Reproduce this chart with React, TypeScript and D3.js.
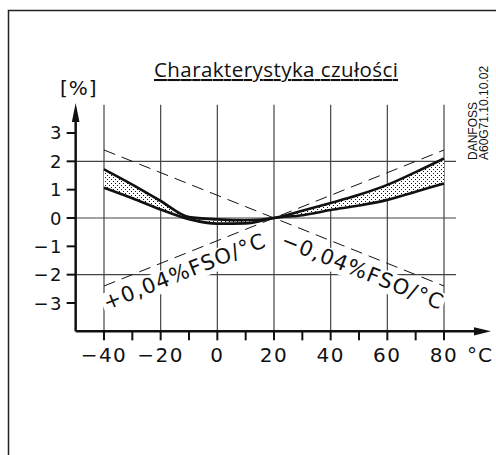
import React, { useEffect, useRef } from 'react';
import * as d3 from 'd3';

const temps = [-40, -30, -20, -10, 0, 10, 20, 30, 40, 50, 60, 70, 80];
const upperErr = [1.72, 1.18, 0.6, 0.03, -0.05, -0.08, 0, 0.26, 0.53, 0.82, 1.17, 1.62, 2.1];
const lowerErr = [1.07, 0.7, 0.3, -0.04, -0.2, -0.19, 0, 0.1, 0.28, 0.44, 0.64, 0.93, 1.22];

const xLabels = [-40, -20, 0, 20, 40, 60, 80];
const xTicks = [-40, -30, -20, -10, 0, 10, 20, 30, 40, 50, 60, 70, 80];
const yTicks = [-3, -2, -1, 0, 1, 2, 3];
const yGrid = [-2, 0, 2];

const refTemp = 20;
const tcSlopes = [0.04, -0.04];
const tcLabels = ['+0,04%FSO/°C', '−0,04%FSO/°C'];
const tcLabelAt = [-39, 22];

const title = 'Charakterystyka czułości';
const unitY = '[%]';
const unitX = '°C';
const stamp = ['DANFOSS', 'A60G71.10.10.02'];

const W = 496;
const H = 455;
const ink = '#111';
const grid = '#444';
const techFont = '"DejaVu Sans", sans-serif';

const fmt = (d: number) => (d < 0 ? '−' + Math.abs(d) : String(d));

export default function App() {
  const ref = useRef<SVGSVGElement>(null);

  useEffect(() => {
    const svg = d3.select(ref.current);
    svg.selectAll('*').remove();

    const x = d3.scaleLinear().domain([-40, 80]).range([104, 444]);
    const y = d3.scaleLinear().domain([0, 2]).range([218, 161.33]);
    const x0 = x(-50);
    const yTop = y(4);
    const yBot = y(-4);

    // dotted fill for the band
    const defs = svg.append('defs');
    const pat = defs
      .append('pattern')
      .attr('id', 'dots')
      .attr('patternUnits', 'userSpaceOnUse')
      .attr('width', 4)
      .attr('height', 4);
    pat.append('rect').attr('width', 4).attr('height', 4).attr('fill', '#fff');
    pat.append('rect').attr('x', 1).attr('y', 1).attr('width', 1).attr('height', 1).attr('fill', ink);
    pat.append('rect').attr('x', 3).attr('y', 3).attr('width', 1).attr('height', 1).attr('fill', ink);

    // frame
    svg
      .append('rect')
      .attr('x', 8.5)
      .attr('y', 10.5)
      .attr('width', 600)
      .attr('height', 600)
      .attr('fill', 'none')
      .attr('stroke', '#222')
      .attr('stroke-width', 1.5);

    // grid
    svg
      .selectAll('.vgrid')
      .data(xLabels)
      .enter()
      .append('line')
      .attr('x1', d => x(d))
      .attr('x2', d => x(d))
      .attr('y1', yTop)
      .attr('y2', yBot)
      .attr('stroke', grid)
      .attr('stroke-width', 1.2);

    svg
      .selectAll('.hgrid')
      .data(yGrid)
      .enter()
      .append('line')
      .attr('x1', x0)
      .attr('x2', 456)
      .attr('y1', d => y(d))
      .attr('y2', d => y(d))
      .attr('stroke', grid)
      .attr('stroke-width', 1.2);

    // tolerance lines
    tcSlopes.forEach(s => {
      svg
        .append('line')
        .attr('x1', x(-40))
        .attr('y1', y(s * (-40 - refTemp)))
        .attr('x2', x(80))
        .attr('y2', y(s * (80 - refTemp)))
        .attr('stroke', ink)
        .attr('stroke-width', 1)
        .attr('stroke-dasharray', '12 7');
    });

    // sensitivity band
    const band = d3
      .area<number>()
      .x((_, i) => x(temps[i]))
      .y0((_, i) => y(lowerErr[i]))
      .y1(d => y(d))
      .curve(d3.curveMonotoneX);
    svg.append('path').attr('d', band(upperErr)).attr('fill', 'url(#dots)');

    const line = d3
      .line<number>()
      .x((_, i) => x(temps[i]))
      .y(d => y(d))
      .curve(d3.curveMonotoneX);
    [upperErr, lowerErr].forEach(s => {
      svg
        .append('path')
        .attr('d', line(s))
        .attr('fill', 'none')
        .attr('stroke', ink)
        .attr('stroke-width', 2.6);
    });

    // rotated tolerance labels with white boxes
    tcSlopes.forEach((s, i) => {
      const t = tcLabelAt[i];
      const px = x(t);
      const py = y(s * (t - refTemp) - 0.9);
      const ang =
        (Math.atan2(y(s * 60) - y(0), x(80) - x(20)) * 180) / Math.PI;
      const g = svg.append('g').attr('transform', `translate(${px},${py}) rotate(${ang})`);
      const r = g.append('rect').attr('fill', '#fff');
      const txt = g
        .append('text')
        .attr('font-family', techFont)
        .attr('font-size', 21)
        .attr('fill', ink)
        .attr('textLength', 172)
        .attr('lengthAdjust', 'spacing')
        .text(tcLabels[i]);
      const bb = (txt.node() as SVGTextElement).getBBox();
      r.attr('x', bb.x - 2)
        .attr('y', bb.y + 2)
        .attr('width', bb.width + 4)
        .attr('height', bb.height - 2);
    });

    // axes
    svg
      .append('line')
      .attr('x1', x0)
      .attr('x2', x0)
      .attr('y1', yBot)
      .attr('y2', 116)
      .attr('stroke', ink)
      .attr('stroke-width', 2.5);
    svg
      .append('path')
      .attr('d', `M${x0},103 L${x0 + 3.8},122 L${x0 - 3.8},122 Z`)
      .attr('fill', ink);

    svg
      .append('line')
      .attr('x1', x0)
      .attr('x2', 478)
      .attr('y1', yBot)
      .attr('y2', yBot)
      .attr('stroke', ink)
      .attr('stroke-width', 2.5);
    svg
      .append('path')
      .attr('d', `M491,${yBot} L474,${yBot - 4.2} L474,${yBot + 4.2} Z`)
      .attr('fill', ink);

    svg
      .selectAll('.xtick')
      .data(xTicks)
      .enter()
      .append('line')
      .attr('x1', d => x(d))
      .attr('x2', d => x(d))
      .attr('y1', yBot)
      .attr('y2', yBot + 9)
      .attr('stroke', ink)
      .attr('stroke-width', 2);

    svg
      .selectAll('.ytick')
      .data(yTicks)
      .enter()
      .append('line')
      .attr('x1', x0 - 9)
      .attr('x2', x0)
      .attr('y1', d => y(d))
      .attr('y2', d => y(d))
      .attr('stroke', ink)
      .attr('stroke-width', 2);

    svg
      .selectAll('.xlab')
      .data(xLabels)
      .enter()
      .append('text')
      .attr('x', d => x(d))
      .attr('y', 362)
      .attr('text-anchor', 'middle')
      .attr('font-family', techFont)
      .attr('font-size', 20)
      .attr('letter-spacing', 1.5)
      .attr('fill', ink)
      .text(d => fmt(d));

    svg
      .append('text')
      .attr('x', 467)
      .attr('y', 362)
      .attr('font-family', techFont)
      .attr('font-size', 20)
      .attr('letter-spacing', 1)
      .attr('fill', ink)
      .text(unitX);

    svg
      .selectAll('.ylab')
      .data(yTicks)
      .enter()
      .append('text')
      .attr('x', 63)
      .attr('y', d => y(d) + 6.5)
      .attr('text-anchor', 'end')
      .attr('font-family', techFont)
      .attr('font-size', 18)
      .attr('letter-spacing', 1.5)
      .attr('fill', ink)
      .text(d => fmt(d));

    svg
      .append('text')
      .attr('x', 60)
      .attr('y', 95)
      .attr('font-family', techFont)
      .attr('font-size', 20)
      .attr('letter-spacing', 1)
      .attr('fill', ink)
      .text(unitY);

    // title
    svg
      .append('text')
      .attr('x', 154)
      .attr('y', 77)
      .attr('font-family', '"Open Sans", sans-serif')
      .attr('font-size', 20.5)
      .attr('textLength', 244)
      .attr('lengthAdjust', 'spacing')
      .attr('fill', ink)
      .attr('text-decoration', 'underline')
      .text(title);

    // drawing stamp
    stamp.forEach((s, i) => {
      svg
        .append('text')
        .attr('transform', `translate(${477 + i * 11},160) rotate(-90)`)
        .attr('font-family', '"Liberation Sans", Arial, sans-serif')
        .attr('font-size', 12)
        .attr('fill', ink)
        .text(s);
    });
  }, []);

  return (
    <svg
      ref={ref}
      width={W}
      height={H}
      style={{ position: 'absolute', left: 0, top: 0, background: '#fff' }}
    />
  );
}
